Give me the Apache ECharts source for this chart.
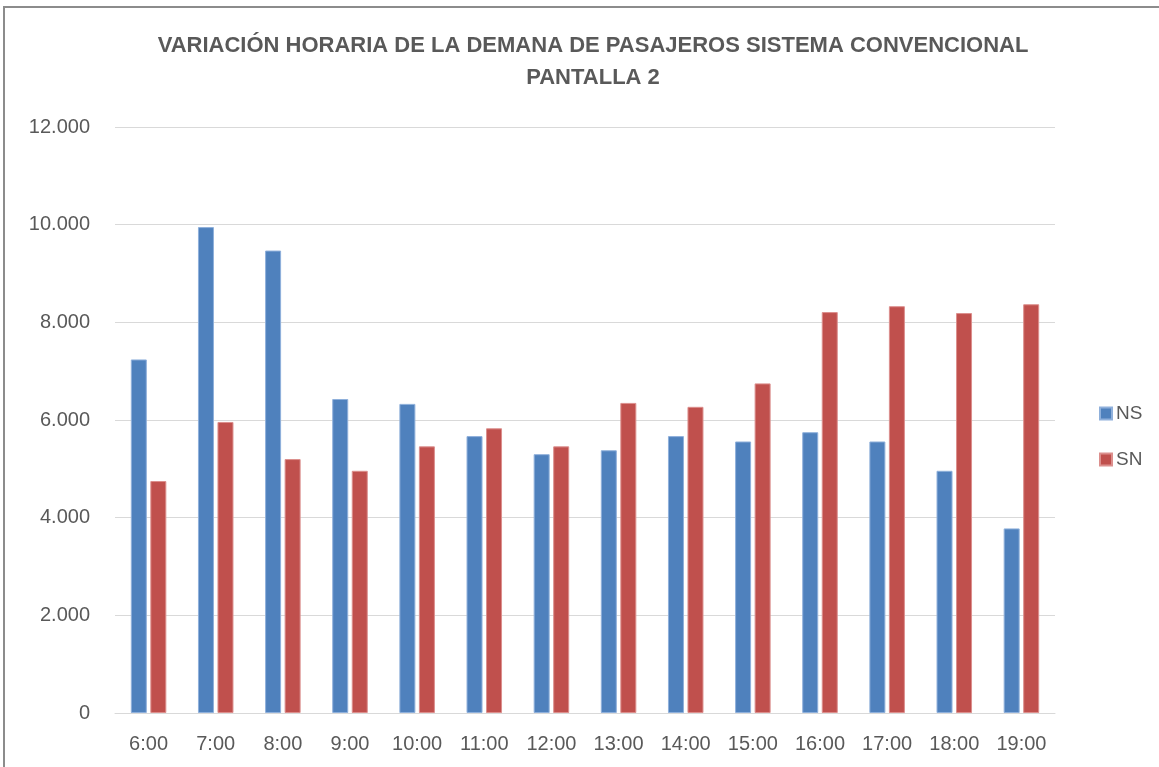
<!DOCTYPE html>
<html>
<head>
<meta charset="utf-8">
<script src="https://cdn.jsdelivr.net/npm/echarts@6/dist/echarts.min.js"></script>
<style>
  html, body { margin: 0; padding: 0; background: #fff; }
  #chart { width: 1159px; height: 767px; }
</style>
</head>
<body>
<div id="chart"></div>
<script>
var horas = ['6:00', '7:00', '8:00', '9:00', '10:00', '11:00', '12:00', '13:00', '14:00', '15:00', '16:00', '17:00', '18:00', '19:00'];
var ns = [7240, 9950, 9470, 6430, 6330, 5670, 5300, 5380, 5670, 5560, 5750, 5560, 4960, 3780];
var sn = [4750, 5960, 5200, 4960, 5460, 5830, 5460, 6350, 6270, 6750, 8210, 8330, 8190, 8370];

var chart = echarts.init(document.getElementById('chart'));
var txt = '#595959';
var fuente = 'Liberation Sans';

var option = {
  backgroundColor: '#fff',
  animation: false,
  graphic: [{
    type: 'rect',
    shape: { x: 4, y: 7, width: 1300, height: 900 },
    style: { fill: 'none', stroke: '#8c8c8c', lineWidth: 2 },
    silent: true
  }],
  title: {
    text: 'VARIACIÓN HORARIA DE LA DEMANA DE PASAJEROS SISTEMA CONVENCIONAL\nPANTALLA 2',
    left: 588,
    textAlign: 'center',
    top: 25,
    textStyle: {
      color: txt,
      fontFamily: fuente,
      fontWeight: 'bold',
      fontSize: 22,
      lineHeight: 32
    }
  },
  legend: {
    orient: 'vertical',
    left: 1094,
    top: 399,
    itemWidth: 12,
    itemHeight: 12,
    itemGap: 27,
    icon: 'rect',
    data: ['NS', 'SN'],
    textStyle: { color: txt, fontFamily: fuente, fontSize: 19, padding: [0, 0, 0, -1] }
  },
  grid: {
    left: 115,
    right: 104,
    top: 127,
    bottom: 54
  },
  xAxis: {
    type: 'category',
    data: horas,
    axisLine: { lineStyle: { color: '#d9d9d9', width: 1 } },
    axisTick: { show: false },
    axisLabel: { color: txt, fontFamily: fuente, fontSize: 20, margin: 21 }
  },
  yAxis: {
    type: 'value',
    min: 0,
    max: 12000,
    interval: 2000,
    axisLine: { show: false },
    axisTick: { show: false },
    splitLine: { lineStyle: { color: '#d9d9d9', width: 1 } },
    axisLabel: {
      color: txt,
      fontFamily: fuente,
      fontSize: 20,
      margin: 25,
      formatter: function (v) {
        return String(v).replace(/\B(?=(\d{3})+(?!\d))/g, '.');
      }
    }
  },
  series: [
    {
      name: 'NS',
      type: 'bar',
      data: ns,
      barWidth: 16,
      barGap: '22%',
      itemStyle: { color: '#4f81bd', borderColor: '#8fb0db', borderWidth: 1 }
    },
    {
      name: 'SN',
      type: 'bar',
      data: sn,
      barWidth: 16,
      itemStyle: { color: '#c0504d', borderColor: '#dc8f8d', borderWidth: 1 }
    }
  ]
};

chart.setOption(option);
</script>
</body>
</html>
